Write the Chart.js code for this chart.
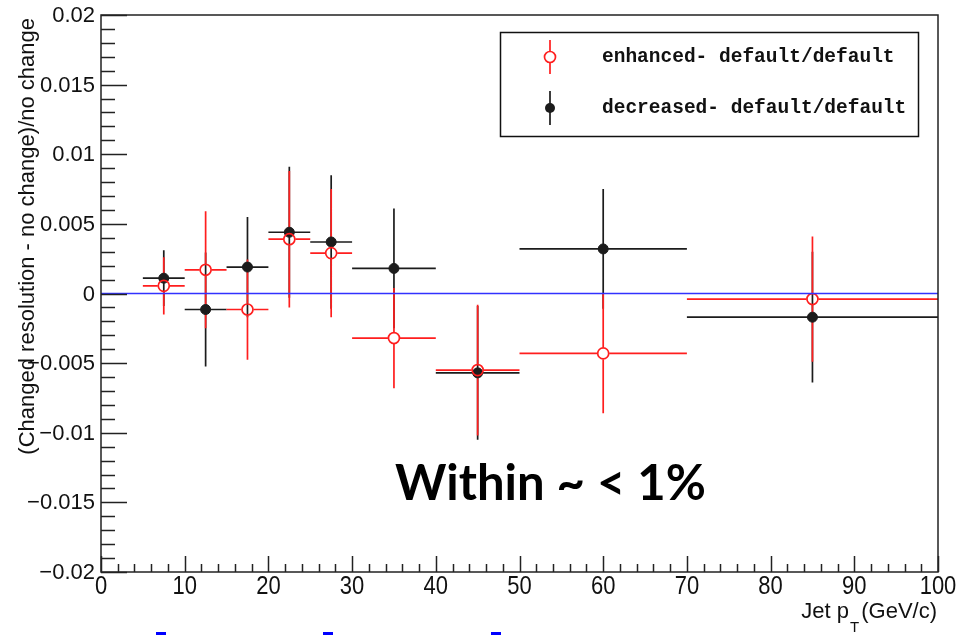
<!DOCTYPE html>
<html>
<head>
<meta charset="utf-8">
<script src="https://cdn.jsdelivr.net/npm/chart.js@4.4.1/dist/chart.umd.min.js"></script>
<style>
  html, body { margin: 0; padding: 0; background: #fff; }
  #wrap { position: relative; width: 975px; height: 635px; }
  #plot { display: block; }
  .link-mark { position: absolute; top: 632px; width: 10px; height: 3px; background: #0000ff; }
</style>
</head>
<body>
<div id="wrap">
  <canvas id="plot" width="975" height="635"></canvas>
  <div class="link-mark" style="left:156px"></div>
  <div class="link-mark" style="left:323px"></div>
  <div class="link-mark" style="left:491px"></div>
</div>
<script>
// jet pT bins: centre and half width (GeV/c)
const binCentres = [7.5, 12.5, 17.5, 22.5, 27.5, 35, 45, 60, 85];
const binHalfWidths = [2.5, 2.5, 2.5, 2.5, 2.5, 5, 5, 10, 15];

// relative change of the resolution, with its uncertainty
const enhancedVals = [0.00055, 0.0017, -0.00115, 0.0039, 0.0029, -0.0032, -0.0055, -0.0043, -0.0004];
const enhancedErrs = [0.00205, 0.0042, 0.0036, 0.0049, 0.0046, 0.0036, 0.0047, 0.0043, 0.0045];
const decreasedVals = [0.0011, -0.00115, 0.0019, 0.0044, 0.0037, 0.0018, -0.0057, 0.0032, -0.0017];
const decreasedErrs = [0.002, 0.0041, 0.0036, 0.0047, 0.0048, 0.0043, 0.0048, 0.0043, 0.0047];

// axis ticks
const xMajorTicks = [0, 10, 20, 30, 40, 50, 60, 70, 80, 90, 100];
const xTickLabels = ['0', '10', '20', '30', '40', '50', '60', '70', '80', '90', '100'];
const xMinorStep = 2;
const yMajorTicks = [0.02, 0.015, 0.01, 0.005, 0, -0.005, -0.01, -0.015, -0.02];
const yTickLabels = ['0.02', '0.015', '0.01', '0.005', '0', '\u22120.005', '\u22120.01', '\u22120.015', '\u22120.02'];
const yMinorStep = 0.001;

const RED = 'rgb(255, 30, 30)';
const BLACK = '#1c1c1c';
const BLUE = 'rgb(50, 50, 255)';
const AXIS_FONT = '"Liberation Sans", Arial, sans-serif';

const toPoints = (vals) => vals.map((v, i) => ({ x: binCentres[i], y: v }));

// error bars with a gap around the marker, drawn before the markers
function drawErrors(ctx, xs, ys, vals, errs, color, gap) {
  ctx.save();
  ctx.strokeStyle = color;
  ctx.lineWidth = 1.7;
  ctx.beginPath();
  vals.forEach((v, i) => {
    const cx = xs.getPixelForValue(binCentres[i]);
    const cy = ys.getPixelForValue(v);
    const xl = xs.getPixelForValue(binCentres[i] - binHalfWidths[i]);
    const xr = xs.getPixelForValue(binCentres[i] + binHalfWidths[i]);
    const yt = ys.getPixelForValue(v + errs[i]);
    const yb = ys.getPixelForValue(v - errs[i]);
    ctx.moveTo(xl, cy); ctx.lineTo(cx - gap, cy);
    ctx.moveTo(cx + gap, cy); ctx.lineTo(xr, cy);
    ctx.moveTo(cx, yt); ctx.lineTo(cx, cy - gap);
    ctx.moveTo(cx, cy + gap); ctx.lineTo(cx, yb);
  });
  ctx.stroke();
  ctx.restore();
}

const errorBars = {
  id: 'errorBars',
  beforeDatasetsDraw(chart) {
    const { ctx, scales: { x, y } } = chart;
    drawErrors(ctx, x, y, decreasedVals, decreasedErrs, BLACK, 0);
    drawErrors(ctx, x, y, enhancedVals, enhancedErrs, RED, 6);
  }
};

// frame, inward ticks, labels, titles and the legend box
const frameAndText = {
  id: 'frameAndText',
  afterDraw(chart) {
    const { ctx, chartArea: a, scales: { x, y } } = chart;
    ctx.save();

    ctx.strokeStyle = '#222';
    ctx.lineWidth = 1.5;
    ctx.strokeRect(a.left, a.top, a.right - a.left, a.bottom - a.top);

    ctx.beginPath();
    for (let v = x.min; v <= x.max + 1e-9; v += xMinorStep) {
      const px = Math.round(x.getPixelForValue(v)) + 0.5;
      const len = xMajorTicks.includes(Math.round(v)) ? 16 : 8;
      ctx.moveTo(px, a.bottom); ctx.lineTo(px, a.bottom - len);
    }
    for (let k = -20; k <= 20; k++) {
      const py = Math.round(y.getPixelForValue(k * yMinorStep)) + 0.5;
      const len = k % 5 === 0 ? 26 : 14;
      ctx.moveTo(a.left, py); ctx.lineTo(a.left + len, py);
    }
    ctx.stroke();

    ctx.fillStyle = '#111';
    ctx.font = '22px ' + AXIS_FONT;
    ctx.textAlign = 'right';
    ctx.textBaseline = 'middle';
    yMajorTicks.forEach((v, i) => {
      ctx.fillText(yTickLabels[i], a.left - 6, y.getPixelForValue(v) + 1);
    });
    // x labels are a little taller than wide
    ctx.textAlign = 'center';
    ctx.textBaseline = 'top';
    xMajorTicks.forEach((v, i) => {
      ctx.save();
      ctx.translate(x.getPixelForValue(v), a.bottom + 2);
      ctx.scale(1, 1.15);
      ctx.fillText(xTickLabels[i], 0, 0);
      ctx.restore();
    });

    // y title, read bottom to top, ending at the top of the axis
    ctx.save();
    ctx.translate(34, 18);
    ctx.rotate(-Math.PI / 2);
    ctx.font = '22px ' + AXIS_FONT;
    ctx.textAlign = 'right';
    ctx.textBaseline = 'alphabetic';
    ctx.fillText('(Changed resolution - no change)/no change', 0, 0);
    ctx.restore();

    // x title with subscript T
    ctx.textBaseline = 'alphabetic';
    ctx.textAlign = 'left';
    ctx.font = '22px ' + AXIS_FONT;
    const tail = '(GeV/c)';
    const tailW = ctx.measureText(tail).width;
    const tailX = 937 - tailW;
    ctx.fillText(tail, tailX, 618);
    ctx.font = '15px ' + AXIS_FONT;
    const subW = ctx.measureText('T').width;
    ctx.fillText('T', tailX - subW - 2, 632);
    ctx.font = '22px ' + AXIS_FONT;
    ctx.textAlign = 'right';
    ctx.fillText('Jet p', tailX - subW - 3, 618);

    // legend
    ctx.strokeStyle = '#111';
    ctx.lineWidth = 1.5;
    ctx.strokeRect(500.5, 32.5, 418, 104);
    const rows = [
      { ds: chart.data.datasets[1], y: 57, color: RED, filled: false },
      { ds: chart.data.datasets[2], y: 108, color: BLACK, filled: true }
    ];
    rows.forEach((r) => {
      ctx.strokeStyle = r.color;
      ctx.lineWidth = 1.7;
      ctx.beginPath();
      ctx.moveTo(550, r.y - 17); ctx.lineTo(550, r.y - (r.filled ? 0 : 6));
      ctx.moveTo(550, r.y + (r.filled ? 0 : 6)); ctx.lineTo(550, r.y + 17);
      ctx.stroke();
      ctx.beginPath();
      ctx.arc(550, r.y, r.filled ? 5 : 5.5, 0, Math.PI * 2);
      if (r.filled) { ctx.fillStyle = r.color; ctx.fill(); } else { ctx.stroke(); }
      ctx.fillStyle = '#111';
      ctx.font = 'bold 19.5px "Liberation Mono", "Courier New", monospace';
      ctx.textAlign = 'left';
      ctx.textBaseline = 'alphabetic';
      ctx.fillText(r.ds.label, 602, r.y + 5);
    });

    // note on the plot
    ctx.fillStyle = '#000';
    ctx.font = 'bold 49px Lato, "Open Sans", sans-serif';
    ctx.fillText('Within ~ < 1%', 395, 500);

    ctx.restore();
  }
};

new Chart(document.getElementById('plot'), {
  type: 'scatter',
  data: {
    datasets: [
      {
        label: 'zero',
        data: [{ x: 0, y: 0 }, { x: 100, y: 0 }],
        showLine: true,
        borderColor: BLUE,
        borderWidth: 1.7,
        pointRadius: 0
      },
      {
        label: 'enhanced- default/default',
        data: toPoints(enhancedVals),
        pointStyle: 'circle',
        pointRadius: 5.5,
        backgroundColor: 'rgba(0,0,0,0)',
        borderColor: RED,
        borderWidth: 1.7
      },
      {
        label: 'decreased- default/default',
        data: toPoints(decreasedVals),
        pointStyle: 'circle',
        pointRadius: 5,
        backgroundColor: BLACK,
        borderColor: BLACK,
        borderWidth: 1
      }
    ]
  },
  options: {
    responsive: false,
    animation: false,
    events: [],
    layout: { padding: { left: 101, right: 37, top: 15, bottom: 63 } },
    plugins: { legend: { display: false }, tooltip: { enabled: false } },
    scales: {
      x: { type: 'linear', min: 0, max: 100, display: false },
      y: { type: 'linear', min: -0.02, max: 0.02, display: false }
    }
  },
  plugins: [errorBars, frameAndText]
});
</script>
</body>
</html>
